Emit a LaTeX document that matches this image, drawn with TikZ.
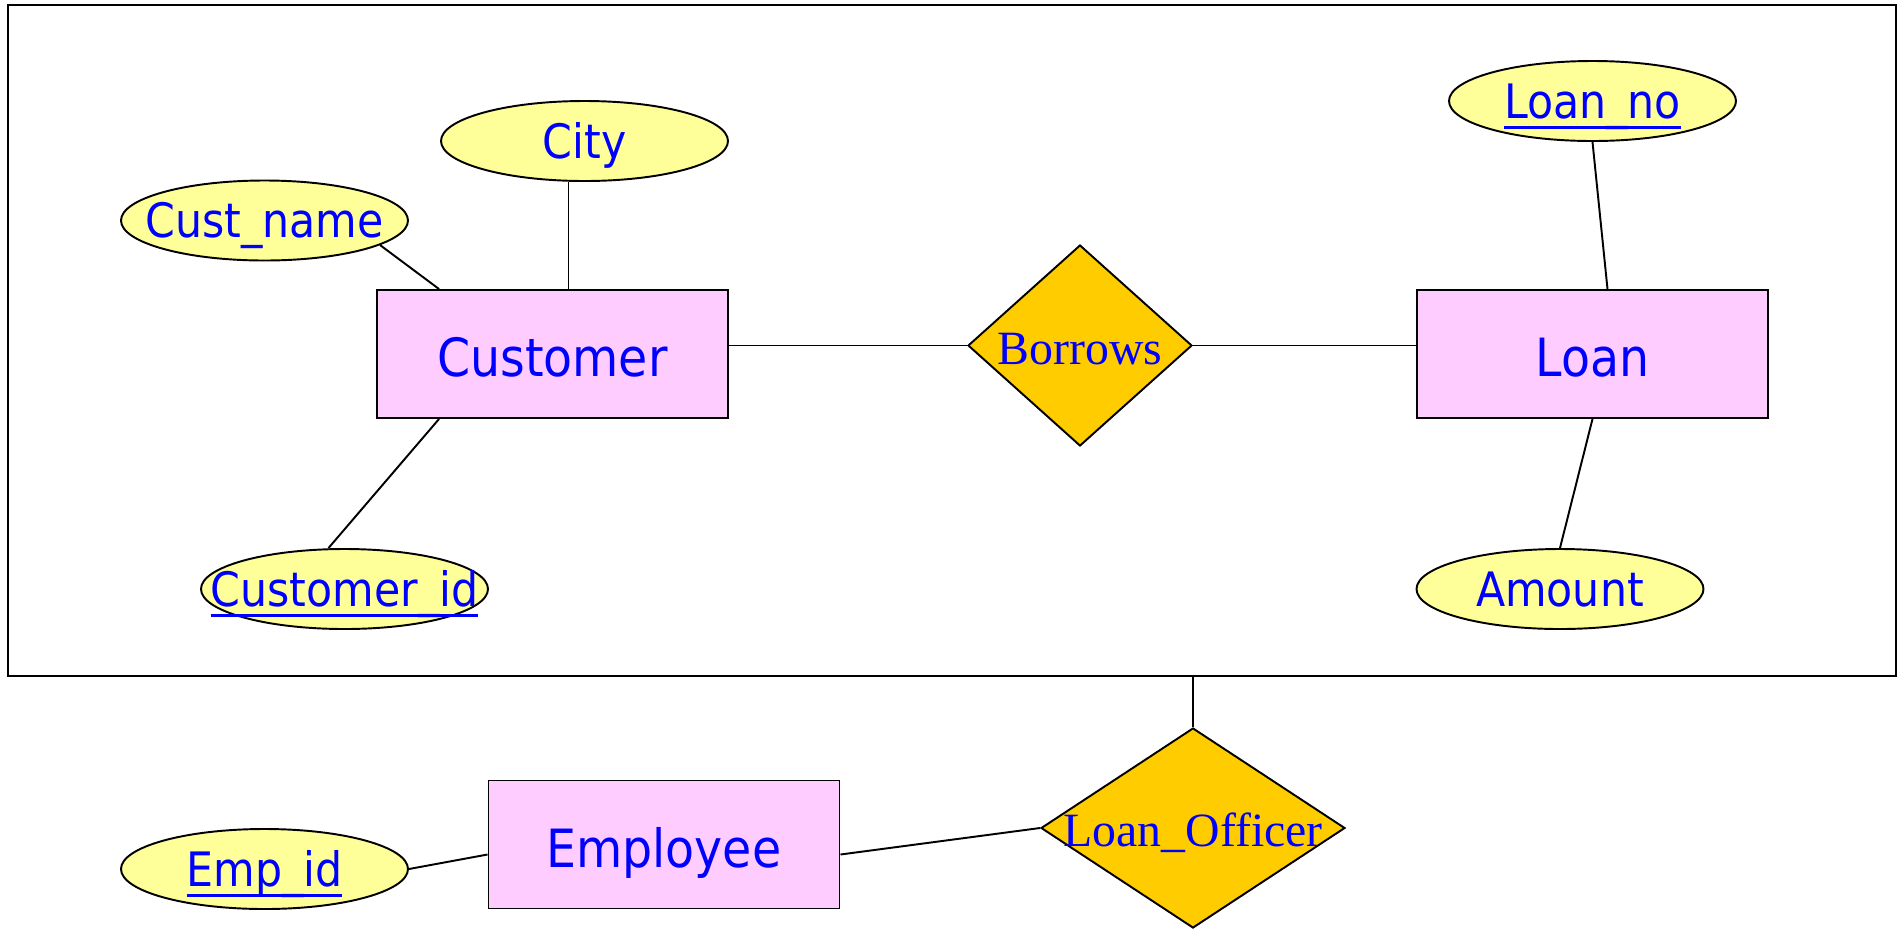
\documentclass[tikz,border=0pt]{standalone}
\usepackage{fontspec}
\setmainfont{Liberation Serif}
\newfontfamily\ersans{DejaVu Sans Condensed}
\usetikzlibrary{shapes.geometric}
\definecolor{entpink}{RGB}{255,204,255}
\definecolor{attyellow}{RGB}{255,255,153}
\definecolor{relgold}{RGB}{255,204,0}
\newcommand{\keyattr}[1]{\setbox0\hbox{#1}\rlap{\rule[-0.236em]{\wd0}{0.065em}}\box0}
\begin{document}
\begin{tikzpicture}[x=0.1mm,y=-0.1mm,line width=0.55pt,
  entity/.style={draw,fill=entpink,minimum width=35.1mm,minimum height=12.8mm,
    text height=12.8pt,text depth=0pt,
    text=blue,font=\ersans\fontsize{15}{18}\selectfont},
  zerow/.style={execute at begin node={\hbox to 0pt\bgroup\hss},
    execute at end node={\hss\egroup}},
  attrib/.style={draw,ellipse,fill=attyellow,inner sep=0pt,zerow,
    minimum width=28.7mm,minimum height=8mm,text height=11.8pt,text depth=2pt,
    text=blue,font=\ersans\fontsize{13.5}{16}\selectfont},
  relship/.style={draw,diamond,fill=relgold,inner sep=0pt,zerow,
    text height=10.8pt,text depth=0pt,
    text=blue,font=\fontsize{13.6}{16}\selectfont}]
\useasboundingbox (0,0) rectangle (1900,928);
\node[draw,minimum width=188.8mm,minimum height=67.1mm,inner sep=0pt] (aggr) at (952,340.5) {};
\node[entity] (customer) at (552.5,354) {Customer};
\node[entity] (loan) at (1592.5,354) {Loan};
\node[entity] (employee) at (664,844.5) {Employee};
\node[relship,minimum width=22.4mm,minimum height=20.1mm] (borrows) at (1080,345.5) {Borrows};
\node[relship,minimum width=30.4mm,minimum height=20mm] (loanofficer) at (1193,828) {Loan\_Officer};
\node[attrib] (city) at (584.5,141) {City};
\node[attrib] (custname) at (264.5,220.5) {Cust\_name};
\node[attrib] (custid) at (344.5,589) {\keyattr{Customer\_id}};
\node[attrib] (loanno) at (1592.5,101) {\keyattr{Loan\_no}};
\node[attrib] (amount) at (1560,589) {Amount};
\node[attrib] (empid) at (264.5,869) {\keyattr{Emp\_id}};
\draw (custname.-12) -- ([xshift=6.3mm]customer.north west);
\draw ([xshift=-1.6mm]city.south) -- ([xshift=-1.6mm]city.south |- customer.north);
\draw ([xshift=-1.6mm]custid.north) -- ([xshift=6.3mm]customer.south west);
\draw (customer.east |- borrows.west) -- (borrows.west);
\draw (borrows.east) -- (borrows.east -| loan.west);
\draw (loanno.south) -- ([xshift=1.5mm]loan.north);
\draw (loan.south) -- (amount.north);
\draw (loanofficer.north) -- (loanofficer.north |- aggr.south);
\draw ([yshift=-1mm]employee.east) -- (loanofficer.west);
\draw (empid.east) -- ([yshift=-1mm]employee.west);
\end{tikzpicture}
\end{document}
